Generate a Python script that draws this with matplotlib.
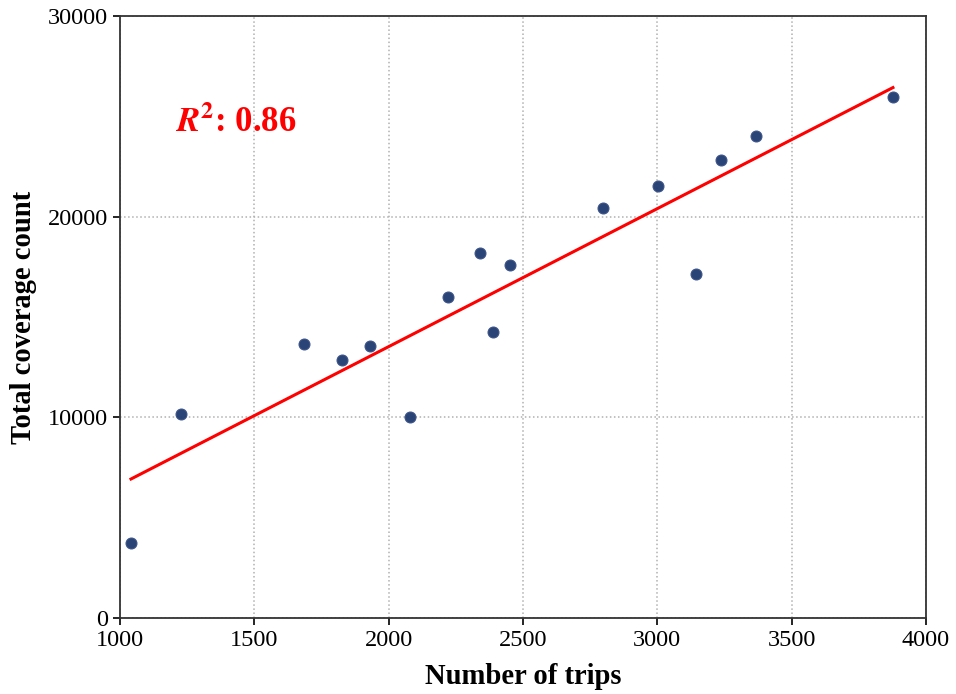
import matplotlib.pyplot as plt
import numpy as np

plt.rcParams.update({
    "font.family": "Liberation Serif",
    "mathtext.fontset": "stix",
    "font.size": 17,
    "axes.edgecolor": "#333333",
    "axes.linewidth": 1.3,
})

# data
n_trips = [1041, 1227, 1685, 1826, 1930, 2079, 2221, 2340, 2388, 2451,
           2798, 3002, 3144, 3237, 3368, 3877]
coverage = [3740, 10160, 13650, 12850, 13550, 10010, 15990, 18180, 14250, 17590,
            20420, 21520, 17140, 22820, 24010, 25960]
r2_label = "0.86"

x = np.array(n_trips, dtype=float)
y = np.array(coverage, dtype=float)
slope, intercept = np.polyfit(x, y, 1)
xs = np.array([x.min(), x.max()])

fig = plt.figure(figsize=(9.56, 6.94), dpi=100)
ax = fig.add_axes([0.1255, 0.1095, 0.8431, 0.8675])

ax.grid(True, linestyle=":", color="#b0b0b0", linewidth=1.1, zorder=0)
ax.scatter(x, y, s=62, color="#1f3a70", edgecolors="#3a5285",
           linewidths=0.8, alpha=0.95, zorder=3)
ax.plot(xs, slope * xs + intercept, color="red", linewidth=2.2, zorder=2)

ax.text(1208, 24660, r"$\mathbfit{R}^{\mathbf{2}}$: " + r2_label, color="red",
        fontsize=25, fontweight="bold", va="center", ha="left")

ax.set_xlim(1000, 4000)
ax.set_ylim(0, 30000)
ax.set_xticks(np.arange(1000, 4001, 500))
ax.set_yticks([0, 10000, 20000, 30000])
ax.tick_params(axis="both", direction="out", length=5, width=1.2, labelsize=17.5)
ax.set_xlabel("Number of trips", fontsize=20.6, fontweight="bold", labelpad=9)
ax.set_ylabel("Total coverage count", fontsize=20.6, fontweight="bold", labelpad=8)

fig.savefig("out.png", dpi=100)
